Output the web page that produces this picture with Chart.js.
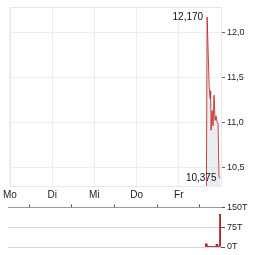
<!DOCTYPE html>
<html>
<head>
<meta charset="utf-8">
<script src="https://cdn.jsdelivr.net/npm/chart.js@4"></script>
<style>
  body { margin: 0; background: #fff; }
  #wrap { position: relative; width: 264px; height: 255px; }
  #priceBox { position: absolute; left: 0; top: 0; width: 264px; height: 200px; }
  #volBox { position: absolute; left: 0; top: 200px; width: 264px; height: 55px; }
</style>
</head>
<body>
<div id="wrap">
  <div id="priceBox"><canvas id="priceChart" width="264" height="200"></canvas></div>
  <div id="volBox"><canvas id="volChart" width="264" height="55"></canvas></div>
</div>
<script>
// week days on the x axis (0 = Monday ... 5 = end of Friday)
const dayLabels = ['Mo', 'Di', 'Mi', 'Do', 'Fr'];

// intraday points, all on Friday afternoon
const priceTimes = [4.655, 4.671, 4.695, 4.718, 4.742, 4.754, 4.765, 4.789, 4.812, 4.836, 4.859, 4.883, 4.906, 4.930, 4.953, 4.988];
const priceValues = [10.29, 12.17, 11.80, 11.41, 11.26, 11.35, 10.91, 11.13, 10.96, 11.30, 11.02, 11.07, 11.00, 10.99, 10.39, 10.375];
const volumeValues = [12000, 3000, 2000, 2000, 2000, 2000, 2000, 2000, 2000, 2000, 2000, 2000, 10000, 2000, 2000, 124000];

const priceTicks = [10.5, 11.0, 11.5, 12.0];
const volumeTicks = [0, 75000, 150000];

const FONT = '"Liberation Sans", Arial, sans-serif';
Chart.defaults.font.family = FONT;
Chart.defaults.color = '#222';

const fmt = v => v.toFixed(1).replace('.', ',');

// light frame round the plot
const framePlugin = {
  id: 'frame',
  beforeDatasetsDraw(chart) {
    const a = chart.chartArea, ctx = chart.ctx;
    ctx.save();
    ctx.strokeStyle = '#e8e8e8';
    ctx.lineWidth = 1;
    ctx.strokeRect(Math.round(a.left) + 0.5, Math.round(a.top) + 0.5, Math.round(a.right - a.left), Math.round(a.bottom - a.top));
    ctx.restore();
  }
};

// high and last value labels
const valueLabels = {
  id: 'valueLabels',
  afterDatasetsDraw(chart) {
    const meta = chart.getDatasetMeta(0);
    const ctx = chart.ctx;
    let hi = 0;
    priceValues.forEach((v, i) => { if (v > priceValues[hi]) hi = i; });
    const last = priceValues.length - 1;
    ctx.save();
    ctx.font = '10px ' + FONT;
    ctx.fillStyle = '#111';
    ctx.textAlign = 'right';
    ctx.textBaseline = 'middle';
    [hi, last].forEach(i => {
      const p = meta.data[i];
      ctx.fillText(priceValues[i].toFixed(3).replace('.', ','), p.x - 4, p.y);
    });
    ctx.restore();
  }
};

new Chart(document.getElementById('priceChart'), {
  type: 'line',
  data: {
    datasets: [{
      data: priceTimes.map((t, i) => ({ x: t, y: priceValues[i] })),
      borderColor: 'rgba(195,45,45,0.9)',
      borderWidth: 1,
      backgroundColor: 'rgba(214,224,232,0.55)',
      fill: 'start',
      pointRadius: 0,
      tension: 0
    }]
  },
  options: {
    responsive: false,
    animation: false,
    layout: { padding: { top: 7, left: 8, right: 0, bottom: 0 } },
    plugins: { legend: { display: false }, tooltip: { enabled: false } },
    scales: {
      x: {
        type: 'linear',
        min: 0,
        max: 5,
        afterFit: s => { s.height = 14; },
        afterBuildTicks: s => { s.ticks = [0, 1, 2, 3, 4, 5].map(v => ({ value: v })); },
        ticks: {
          callback: v => dayLabels[v] || '',
          font: { size: 10 },
          padding: 3,
          maxRotation: 0,
          autoSkip: false
        },
        grid: { color: '#eeeeee', drawTicks: false },
        border: { display: false }
      },
      y: {
        position: 'right',
        min: 10.289,
        max: 12.278,
        afterFit: s => { s.width = 43; },
        afterBuildTicks: s => { s.ticks = priceTicks.map(v => ({ value: v })); },
        ticks: {
          callback: v => fmt(v),
          font: { size: 9 },
          padding: 2
        },
        grid: { color: '#eeeeee', tickLength: 4, tickColor: '#666' },
        border: { display: false }
      }
    }
  },
  plugins: [framePlugin, valueLabels]
});

new Chart(document.getElementById('volChart'), {
  type: 'bar',
  data: {
    datasets: [{
      data: priceTimes.map((t, i) => ({ x: t, y: volumeValues[i] })),
      backgroundColor: '#b22222',
      barThickness: 2
    }]
  },
  options: {
    responsive: false,
    animation: false,
    layout: { padding: { top: 0, left: 8, right: 0, bottom: 8 } },
    plugins: { legend: { display: false }, tooltip: { enabled: false } },
    scales: {
      x: {
        type: 'linear',
        position: 'top',
        min: 0,
        max: 5,
        offset: false,
        afterFit: s => { s.height = 6; },
        afterBuildTicks: s => { s.ticks = [0, 1, 2, 3, 4, 5].map(v => ({ value: v })); },
        ticks: { display: false },
        grid: { drawOnChartArea: false, tickLength: 3, color: '#555' },
        border: { display: true, color: '#999' }
      },
      y: {
        position: 'right',
        min: 0,
        max: 150000,
        afterFit: s => { s.width = 43; },
        afterBuildTicks: s => { s.ticks = volumeTicks.map(v => ({ value: v })); },
        ticks: {
          callback: v => (v / 1000) + 'T',
          font: { size: 9 },
          padding: 2
        },
        grid: { color: '#d4d4d4', tickLength: 4, tickColor: '#555' },
        border: { display: false }
      }
    }
  }
});
</script>
</body>
</html>
